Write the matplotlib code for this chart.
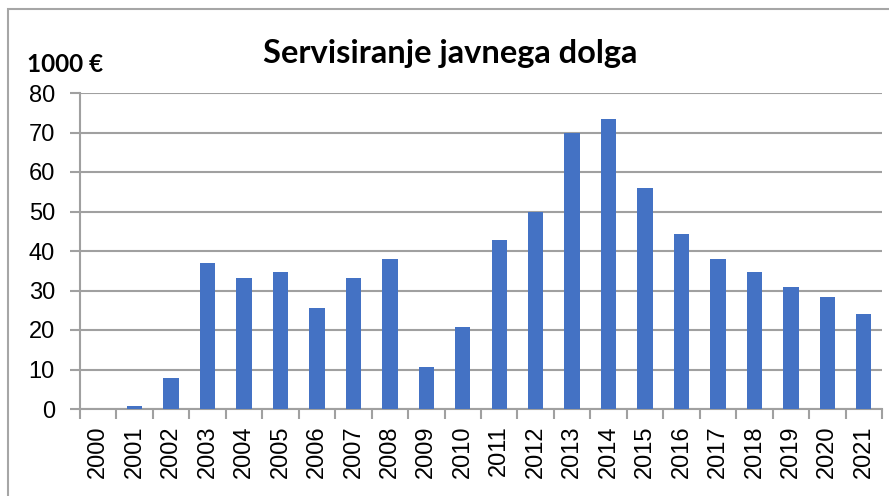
import matplotlib.pyplot as plt
from matplotlib.patches import Rectangle

# podatki (1000 €)
leta = [str(l) for l in range(2000, 2022)]
vrednosti = [0, 0.7, 7.8, 37.0, 33.2, 34.8, 25.6, 33.2, 38.0, 10.6, 20.8,
             42.9, 50.0, 70.0, 73.3, 55.9, 44.4, 38.0, 34.8, 31.0, 28.3, 24.0]
y_ticks = list(range(0, 81, 10))

W, H = 889, 496
fig = plt.figure(figsize=(W / 100, H / 100), dpi=100)

# okvir grafikona (desni in spodnji rob sta izven slike)
fig.patches.append(Rectangle((8 / W, -0.1), 1.2, 1.1 - 9 / H, transform=fig.transFigure,
                             fill=False, edgecolor='#a6a6a6', linewidth=1.5, clip_on=False))

ax = fig.add_axes([80 / W, 1 - 409 / H, (882 - 80) / W, (409 - 93) / H])

x = range(len(leta))
ax.bar(x, vrednosti, width=0.42, color='#4472c4', zorder=3)

ax.set_xlim(-0.5, len(leta) - 0.5)
ax.set_ylim(0, 80)
ax.set_yticks(y_ticks)
ax.yaxis.grid(True, color='#a0a0a0', linewidth=1.5, zorder=0)

ax.set_xticks([i - 0.5 for i in range(len(leta) + 1)], minor=False)
ax.set_xticklabels([])
ax.set_xticks(list(x), minor=True)
ax.set_xticklabels(leta, minor=True, rotation=90, fontsize=17, family='Liberation Sans')
ax.tick_params(axis='x', which='major', length=7, width=1.5, color='#a0a0a0')
ax.tick_params(axis='x', which='minor', length=0, pad=12)
ax.tick_params(axis='y', length=7, width=1.5, color='#a0a0a0', labelsize=17, pad=11)
for lab in ax.get_yticklabels():
    lab.set_family('Liberation Sans')

for s in ['top', 'right']:
    ax.spines[s].set_visible(False)
for s in ['left', 'bottom']:
    ax.spines[s].set_color('#a0a0a0')
    ax.spines[s].set_linewidth(1.5)

fig.text(450 / W, 1 - 53 / H, 'Servisiranje javnega dolga', ha='center', va='center',
         fontsize=23.5, fontweight='bold', family='Lato')
fig.text(27 / W, 1 - 64 / H, '1000 €', ha='left', va='center',
         fontsize=17.5, fontweight='bold', family='Lato')

fig.savefig('out.png', dpi=100)
